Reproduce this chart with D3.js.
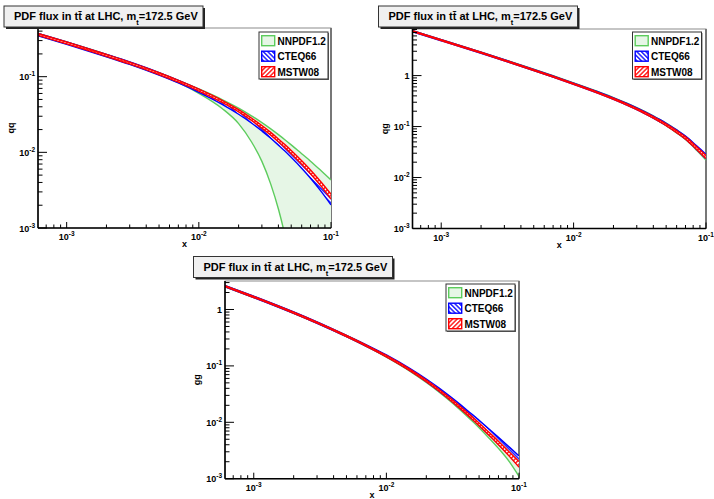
<!DOCTYPE html>
<meta charset='utf-8'>
<body style='margin:0;background:#fff'>
<script src='https://d3js.org/d3.v7.min.js'></script>
<script>

var xVals = [0.000607, 0.001, 0.002, 0.003, 0.005, 0.007, 0.01, 0.015, 0.02, 0.025, 0.03, 0.035, 0.04, 0.045, 0.05, 0.06, 0.07, 0.085, 0.1];
var setNames = ['NNPDF1.2', 'CTEQ66', 'MSTW08'];
var yTitles = ['qq', 'qg', 'gg'];
var titleParts = ['PDF flux in t', 't\u0304', ' at LHC, m', 't', '=172.5 GeV'];

// qq luminosity bands
var qqNnpdfUp = [0.373, 0.287, 0.197, 0.156, 0.1129, 0.0895, 0.0689, 0.0499, 0.0384, 0.0304, 0.0247, 0.0204, 0.01714, 0.01459, 0.01256, 0.00959, 0.00764, 0.00562, 0.00432];
var qqNnpdfLo = [0.351, 0.271, 0.185, 0.1469, 0.1067, 0.0832, 0.0603, 0.0380, 0.0240, 0.0138, 0.00759, 0.0038, 0.00178, 0.00076, 0.00025, 0.00003, 0.000004, 0.0000003, 0.00000002];
var qqCteqUp = [0.374, 0.288, 0.197, 0.1563, 0.1132, 0.0893, 0.0680, 0.0479, 0.0358, 0.0276, 0.0217, 0.01756, 0.01434, 0.01193, 0.01002, 0.00731, 0.00549, 0.00371, 0.0026];
var qqCteqLo = [0.347, 0.2676, 0.1832, 0.1452, 0.1047, 0.0826, 0.0620, 0.0431, 0.0319, 0.0244, 0.01912, 0.01537, 0.01246, 0.01031, 0.00859, 0.00617, 0.00455, 0.00298, 0.00202];
var qqMstwUp = [0.372, 0.287, 0.1963, 0.1556, 0.1127, 0.0893, 0.0685, 0.0487, 0.0366, 0.0284, 0.0226, 0.01834, 0.01505, 0.01256, 0.01059, 0.00776, 0.00586, 0.00397, 0.0028];
var qqMstwLo = [0.352, 0.271, 0.1858, 0.1473, 0.1066, 0.0845, 0.0646, 0.0456, 0.0342, 0.0264, 0.0209, 0.01689, 0.01378, 0.01146, 0.00961, 0.00698, 0.00522, 0.00349, 0.00242];

// qg luminosity bands
var qgNnpdfUp = [7.60, 5.08, 2.89, 2.055, 1.330, 0.993, 0.722, 0.495, 0.371, 0.2905, 0.2344, 0.1932, 0.1618, 0.1368, 0.1170, 0.0858, 0.0646, 0.0406, 0.0268];
var qgNnpdfLo = [7.33, 4.90, 2.79, 1.980, 1.274, 0.948, 0.690, 0.469, 0.349, 0.2722, 0.2188, 0.1789, 0.1479, 0.1232, 0.1043, 0.0748, 0.0555, 0.0343, 0.0220];
var qgCteqUp = [7.60, 5.08, 2.88, 2.047, 1.318, 0.980, 0.713, 0.488, 0.365, 0.2866, 0.2322, 0.1918, 0.1611, 0.1361, 0.1162, 0.0858, 0.0650, 0.0418, 0.0285];
var qgCteqLo = [7.22, 4.83, 2.74, 1.945, 1.253, 0.931, 0.674, 0.458, 0.342, 0.267, 0.2148, 0.1760, 0.1469, 0.1235, 0.1049, 0.0765, 0.0572, 0.0356, 0.0234];
var qgMstwUp = [7.57, 5.05, 2.87, 2.037, 1.312, 0.975, 0.704, 0.481, 0.359, 0.2811, 0.2269, 0.1871, 0.1567, 0.1322, 0.1127, 0.0831, 0.0628, 0.0401, 0.0270];
var qgMstwLo = [7.26, 4.85, 2.75, 1.954, 1.258, 0.935, 0.676, 0.459, 0.341, 0.266, 0.2139, 0.1753, 0.1463, 0.1227, 0.1042, 0.0758, 0.0567, 0.0356, 0.0236];

// gg luminosity bands
var ggNnpdfUp = [2.648, 1.709, 0.897, 0.598, 0.346, 0.2354, 0.1513, 0.0863, 0.0550, 0.0373, 0.02655, 0.01961, 0.01486, 0.01159, 0.00920, 0.00608, 0.00424, 0.00267, 0.00180];
var ggNnpdfLo = [2.529, 1.632, 0.857, 0.572, 0.330, 0.2240, 0.1432, 0.0809, 0.0509, 0.0343, 0.02422, 0.01766, 0.01324, 0.01021, 0.00801, 0.00513, 0.00345, 0.00197, 0.0011];
var ggCteqUp = [2.661, 1.718, 0.902, 0.601, 0.347, 0.2388, 0.1563, 0.0905, 0.0585, 0.0403, 0.02910, 0.02187, 0.01691, 0.01340, 0.01081, 0.00744, 0.00540, 0.00359, 0.00254];
var ggCteqLo = [2.518, 1.626, 0.853, 0.569, 0.329, 0.2239, 0.1452, 0.0828, 0.0526, 0.0356, 0.02535, 0.01870, 0.01423, 0.01110, 0.00879, 0.00584, 0.00410, 0.00254, 0.00168];
var ggMstwUp = [2.647, 1.709, 0.897, 0.598, 0.346, 0.2354, 0.1531, 0.0877, 0.0561, 0.0382, 0.02734, 0.02028, 0.01550, 0.01216, 0.00972, 0.00651, 0.00462, 0.00294, 0.00202];
var ggMstwLo = [2.530, 1.633, 0.857, 0.572, 0.330, 0.2249, 0.1448, 0.0825, 0.0524, 0.0355, 0.02518, 0.01857, 0.01411, 0.01099, 0.00870, 0.00575, 0.00399, 0.00246, 0.00160];

var colors = { green: '#5ccc5c', lightGreen: '#e6f6e6', blue: '#0000ff', red: '#ff0000', frame: '#8c8c8c', box: '#f0f0f0' };
var font = "'Liberation Sans', Arial, sans-serif";

var svg = d3.select('body').append('svg')
    .attr('width', 714)
    .attr('height', 499)
    .style('display', 'block')
    .style('font-family', font)
    .style('font-weight', 'bold');

var defs = svg.append('defs');

function hatch(id, color, angle) {
    var p = defs.append('pattern')
        .attr('id', id)
        .attr('patternUnits', 'userSpaceOnUse')
        .attr('width', 3.2)
        .attr('height', 3.2)
        .attr('patternTransform', 'rotate(' + angle + ')');
    p.append('rect').attr('width', 3.2).attr('height', 3.2).attr('fill', '#fff');
    p.append('line')
        .attr('x1', 0.8).attr('y1', 0).attr('x2', 0.8).attr('y2', 3.2)
        .attr('stroke', color).attr('stroke-width', 1.3);
}
hatch('hatchBlue', colors.blue, -45);
hatch('hatchRed', colors.red, 45);

var styles = [
    { fill: colors.lightGreen, stroke: colors.green },
    { fill: 'url(#hatchBlue)', stroke: colors.blue },
    { fill: 'url(#hatchRed)', stroke: colors.red }
];

var panels = [
    { id: 'qq', x0: 38, x1: 331, y0: 28, y1: 228, yMax: 0.44,
      title: [4, 6], legend: [259, 32], ytitle: 14,
      bands: [[qqNnpdfLo, qqNnpdfUp], [qqCteqLo, qqCteqUp], [qqMstwLo, qqMstwUp]] },
    { id: 'qg', x0: 412.5, x1: 706, y0: 29, y1: 228.5, yMax: 8.2,
      title: [378.5, 6], legend: [632.5, 32], ytitle: 388,
      bands: [[qgNnpdfLo, qgNnpdfUp], [qgCteqLo, qgCteqUp], [qgMstwLo, qgMstwUp]] },
    { id: 'gg', x0: 225, x1: 519, y0: 281, y1: 478.7, yMax: 3.2,
      title: [193.5, 256.5], legend: [446, 284], ytitle: 200,
      bands: [[ggNnpdfLo, ggNnpdfUp], [ggCteqLo, ggCteqUp], [ggMstwLo, ggMstwUp]] }
];

function powLabel(sel, v) {
    var e = Math.round(Math.log10(v));
    if (e === 0) { sel.text('1'); return; }
    sel.append('tspan').text('10');
    sel.append('tspan').attr('dy', -4).attr('font-size', 6.5).text(e);
}

panels.forEach(function(p, pi) {

    var x = d3.scaleLog().domain([xVals[0], 0.1]).range([p.x0, p.x1]);
    var y = d3.scaleLog().domain([1e-3, p.yMax]).range([p.y1, p.y0]);

    var g = svg.append('g');

    defs.append('clipPath').attr('id', 'clip_' + p.id)
        .append('rect')
        .attr('x', p.x0).attr('y', p.y0)
        .attr('width', p.x1 - p.x0).attr('height', p.y1 - p.y0);

    // frame
    g.append('rect')
        .attr('x', p.x0).attr('y', p.y0)
        .attr('width', p.x1 - p.x0).attr('height', p.y1 - p.y0)
        .attr('fill', '#fff')
        .attr('stroke', colors.frame).attr('stroke-width', 1);
    g.append('line')
        .attr('x1', p.x1).attr('x2', p.x1).attr('y1', p.y0).attr('y2', p.y1)
        .attr('stroke', '#777').attr('stroke-width', 2);

    var plot = g.append('g').attr('clip-path', 'url(#clip_' + p.id + ')');

    p.bands.forEach(function(b, bi) {
        var rows = xVals.map(function(xv, i) { return { x: xv, lo: b[0][i], up: b[1][i] }; });
        var area = d3.area()
            .x(function(d) { return x(d.x); })
            .y0(function(d) { return y(d.lo); })
            .y1(function(d) { return y(d.up); })
            .curve(d3.curveMonotoneX);
        plot.append('path').datum(rows)
            .attr('d', area)
            .attr('fill', styles[bi].fill);
        ['lo', 'up'].forEach(function(k) {
            var line = d3.line()
                .x(function(d) { return x(d.x); })
                .y(function(d) { return y(d[k]); })
                .curve(d3.curveMonotoneX);
            plot.append('path').datum(rows)
                .attr('d', line)
                .attr('fill', 'none')
                .attr('stroke', styles[bi].stroke)
                .attr('stroke-width', 1.4);
        });
    });

    // x axis ticks
    var xTicks = [];
    [1e-4, 1e-3, 1e-2, 1e-1].forEach(function(dec) {
        for (var m = 1; m <= 9; m++) {
            var v = dec * m;
            if (v >= xVals[0] * 0.999 && v <= 0.1001) xTicks.push({ v: v, major: m === 1 });
        }
    });
    g.selectAll('.xt').data(xTicks).enter().append('line')
        .attr('x1', function(d) { return x(d.v); })
        .attr('x2', function(d) { return x(d.v); })
        .attr('y1', p.y1)
        .attr('y2', function(d) { return p.y1 - (d.major ? 6 : 3.5); })
        .attr('stroke', '#000').attr('stroke-width', 1);
    xTicks.filter(function(d) { return d.major; }).forEach(function(d) {
        g.append('text')
            .attr('x', x(d.v)).attr('y', p.y1 + 12)
            .attr('text-anchor', 'middle')
            .attr('font-size', 9)
            .call(powLabel, d.v);
    });

    // y axis ticks
    var yTicks = [];
    [1e-3, 1e-2, 1e-1, 1].forEach(function(dec) {
        for (var m = 1; m <= 9; m++) {
            var v = dec * m;
            if (v <= p.yMax) yTicks.push({ v: v, major: m === 1 });
        }
    });
    g.selectAll('.yt').data(yTicks).enter().append('line')
        .attr('x1', p.x0)
        .attr('x2', function(d) { return p.x0 + (d.major ? 9 : 4.5); })
        .attr('y1', function(d) { return y(d.v); })
        .attr('y2', function(d) { return y(d.v); })
        .attr('stroke', '#000').attr('stroke-width', 1);
    yTicks.filter(function(d) { return d.major; }).forEach(function(d) {
        g.append('text')
            .attr('x', p.x0 - 3).attr('y', y(d.v) + 3.5)
            .attr('text-anchor', 'end')
            .attr('font-size', 9)
            .call(powLabel, d.v);
    });

    // axes lines
    g.append('line').attr('x1', p.x0).attr('x2', p.x0).attr('y1', p.y0).attr('y2', p.y1)
        .attr('stroke', '#000').attr('stroke-width', 1.6);
    g.append('line').attr('x1', p.x0).attr('x2', p.x1).attr('y1', p.y1).attr('y2', p.y1)
        .attr('stroke', '#000').attr('stroke-width', 1.6);

    // axis titles
    g.append('text')
        .attr('x', (p.x0 + p.x1) / 2).attr('y', p.y1 + 19)
        .attr('text-anchor', 'middle').attr('font-size', 9)
        .text('x');
    g.append('text')
        .attr('transform', 'translate(' + p.ytitle + ',' + ((p.y0 + p.y1) / 2) + ') rotate(-90)')
        .attr('text-anchor', 'middle').attr('font-size', 9)
        .text(yTitles[pi]);

    // title box
    var tb = g.append('g').attr('transform', 'translate(' + p.title[0] + ',' + p.title[1] + ')');
    tb.append('rect').attr('x', 2).attr('y', 2).attr('width', 199).attr('height', 21).attr('fill', '#222');
    tb.append('rect').attr('width', 199).attr('height', 21)
        .attr('fill', colors.box).attr('stroke', '#333').attr('stroke-width', 1);
    var tt = tb.append('text').attr('x', 10).attr('y', 14).attr('font-size', 11);
    tt.append('tspan').text(titleParts[0]);
    tt.append('tspan').text(titleParts[1]);
    tt.append('tspan').text(titleParts[2]);
    tt.append('tspan').attr('dy', 5).attr('font-size', 7.5).text(titleParts[3]);
    tt.append('tspan').attr('dy', -5).text(titleParts[4]);

    // legend
    var lg = g.append('g').attr('transform', 'translate(' + p.legend[0] + ',' + p.legend[1] + ')');
    lg.append('rect').attr('x', 1).attr('y', 1).attr('width', 69).attr('height', 47).attr('fill', '#666');
    lg.append('rect').attr('width', 69).attr('height', 47)
        .attr('fill', '#fff').attr('stroke', '#333').attr('stroke-width', 1);
    setNames.forEach(function(name, i) {
        var row = lg.append('g').attr('transform', 'translate(2,' + (3 + i * 15.5) + ')');
        row.append('rect').attr('x', 0.7).attr('y', 0.7).attr('width', 13).attr('height', 10)
            .attr('fill', styles[i].fill)
            .attr('stroke', styles[i].stroke).attr('stroke-width', 1.4);
        row.append('text').attr('x', 16.5).attr('y', 9.5).attr('font-size', 10).text(name);
    });
});

</script>
</body>
